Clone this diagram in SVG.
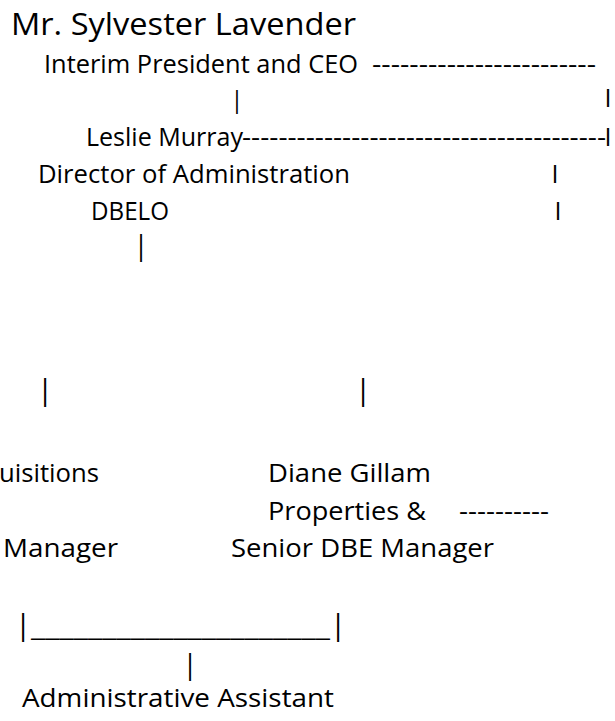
<svg xmlns="http://www.w3.org/2000/svg" width="615" height="721" viewBox="0 0 615 721">
  <style>
    text { font-family: "Open Sans", "Noto Sans", "Liberation Sans", sans-serif; fill: #000; }
    .title { font-size: 31px; }
    .body { font-size: 25.2px; }
    .bar { text-anchor: middle; }
    .tall { font-size: 29.5px; }
  </style>
  <rect width="615" height="721" fill="#fff"/>

  <g id="node-lavender">
    <text class="title" x="11" y="35" textLength="345" lengthAdjust="spacingAndGlyphs">Mr. Sylvester Lavender</text>
    <text class="body" x="44" y="73" textLength="314" lengthAdjust="spacingAndGlyphs">Interim President and CEO</text>
  </g>

  <g id="node-murray">
    <text class="body" x="86" y="146" textLength="157" lengthAdjust="spacingAndGlyphs">Leslie Murray</text>
    <text class="body" x="38" y="183" textLength="312" lengthAdjust="spacingAndGlyphs">Director of Administration</text>
    <text class="body" x="91" y="220" textLength="78" lengthAdjust="spacingAndGlyphs">DBELO</text>
  </g>

  <g id="node-acquisitions">
    <text class="body" x="-1" y="482" textLength="100" lengthAdjust="spacingAndGlyphs">uisitions</text>
    <text class="body" x="3" y="557" textLength="115" lengthAdjust="spacingAndGlyphs">Manager</text>
  </g>

  <g id="node-gillam">
    <text class="body" x="268" y="482" textLength="163" lengthAdjust="spacingAndGlyphs">Diane Gillam</text>
    <text class="body" x="268" y="520" textLength="158" lengthAdjust="spacingAndGlyphs">Properties &amp;</text>
    <text class="body" x="231" y="557" textLength="263" lengthAdjust="spacingAndGlyphs">Senior DBE Manager</text>
  </g>

  <g id="node-assistant">
    <text class="body" x="22" y="707" textLength="312" lengthAdjust="spacingAndGlyphs">Administrative Assistant</text>
  </g>

  <!-- typed connector marks: dashes, bars and underscores -->
  <g id="connectors">
    <text class="body" x="372" y="73" textLength="224" lengthAdjust="spacingAndGlyphs">------------------------</text>
    <text class="body" x="242" y="146" textLength="364" lengthAdjust="spacingAndGlyphs">----------------------------------------</text>
    <text class="body" x="459" y="520" textLength="90" lengthAdjust="spacingAndGlyphs">----------</text>

    <text class="body bar" x="608" y="107">I</text>
    <text class="body bar" x="608" y="146">I</text>
    <text class="body bar" x="555" y="183">I</text>
    <text class="body bar" x="558" y="220">I</text>

    <text class="bar" x="237" y="107.5" style="font-size:23.5px">|</text>
    <text class="bar" x="141" y="255" style="font-size:26.5px">|</text>
    <text class="bar tall" x="45" y="400">|</text>
    <text class="bar tall" x="363" y="400">|</text>

    <!-- bracket joining the two managers -->
    <text class="bar tall" x="23" y="635">|</text>
    <text class="body" x="31" y="636" textLength="299" lengthAdjust="spacingAndGlyphs">_____________________</text>
    <text class="bar tall" x="338" y="635">|</text>
    <text class="bar" x="190" y="674" style="font-size:27.5px">|</text>
  </g>
</svg>
